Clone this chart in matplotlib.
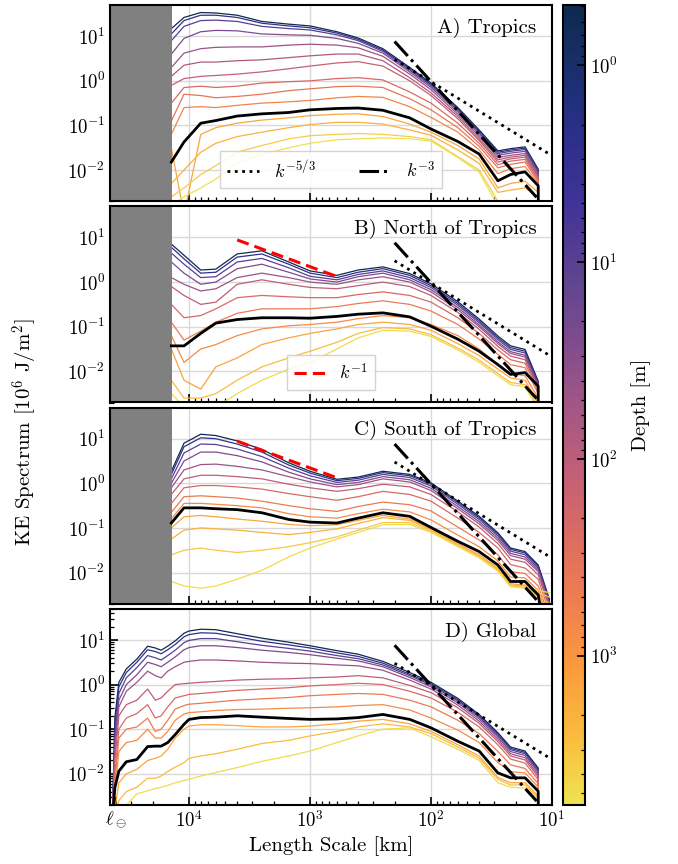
import numpy as np
import matplotlib
matplotlib.use('Agg')
import matplotlib.pyplot as plt
from matplotlib.colors import LinearSegmentedColormap, LogNorm
from matplotlib.cm import ScalarMappable
import matplotlib.ticker as mticker

plt.rcParams.update({
    'font.family': 'serif',
    'font.serif': ['cmr10'],
    'mathtext.fontset': 'cm',
    'axes.unicode_minus': False,
    'axes.formatter.use_mathtext': True,
})

# length scales [km]
L_AB = [14000, 11000, 8000, 6000, 4000, 2500, 1500, 1000, 600, 400, 250, 150,
        100, 60, 40, 28, 22, 16.7, 13.0, 12.9]
L_C = [14000, 11000, 8000, 6000, 4000, 2500, 1500, 1000, 600, 400, 250, 150,
       100, 60, 40, 28, 22, 16.7, 13.0, 10.5]
L_D = [43000, 41000, 38000, 33000, 27000, 22000, 19000, 17000, 15000, 13000,
       11000, 10000, 8000, 6000, 4000, 2500, 1500, 1000, 600, 400, 250, 150,
       100, 60, 40, 28, 22, 16.7, 13.0, 12.9]

# A) Tropics : depths [m] and log10 of the spectra
depth_A = [0.494, 2.646, 9.573, 25.211, 47.374, 77.854, 130.666, 222.475,
           380.213, 643.567, 1452.25, 1941.89, 3597.03, 5727.92]
logE_A = [
    [1.17, 1.42, 1.53, 1.52, 1.47, 1.33, 1.27, 1.23, 1.10, 0.96, 0.72, 0.30, -0.05, -0.60, -1.10, -1.57, -1.52, -1.48, -1.98, -4],
    [1.05, 1.35, 1.47, 1.47, 1.42, 1.29, 1.23, 1.19, 1.07, 0.93, 0.69, 0.27, -0.08, -0.63, -1.13, -1.60, -1.55, -1.51, -2.01, -4],
    [0.90, 1.22, 1.35, 1.36, 1.33, 1.22, 1.17, 1.14, 1.03, 0.90, 0.66, 0.24, -0.11, -0.66, -1.16, -1.63, -1.58, -1.54, -2.04, -4],
    [0.60, 0.95, 1.10, 1.13, 1.12, 1.05, 1.03, 1.02, 0.95, 0.84, 0.62, 0.20, -0.15, -0.70, -1.20, -1.67, -1.62, -1.58, -2.08, -4],
    [0.30, 0.62, 0.72, 0.75, 0.76, 0.76, 0.80, 0.82, 0.80, 0.74, 0.55, 0.15, -0.20, -0.75, -1.25, -1.72, -1.67, -1.63, -2.12, -4],
    [0.10, 0.35, 0.42, 0.42, 0.45, 0.47, 0.52, 0.56, 0.60, 0.60, 0.45, 0.07, -0.27, -0.80, -1.30, -1.77, -1.71, -1.67, -2.15, -4],
    [-0.10, 0.05, 0.10, 0.12, 0.15, 0.20, 0.27, 0.33, 0.40, 0.43, 0.33, 0.00, -0.33, -0.85, -1.34, -1.82, -1.75, -1.71, -2.18, -4],
    [-0.50, -0.15, -0.12, -0.15, -0.12, -0.05, -0.02, 0.00, 0.05, 0.07, 0.02, -0.25, -0.50, -0.95, -1.40, -1.88, -1.80, -1.76, -2.22, -4],
    [-0.90, -0.30, -0.33, -0.38, -0.35, -0.30, -0.22, -0.18, -0.13, -0.12, -0.15, -0.40, -0.65, -1.05, -1.47, -1.95, -1.87, -1.82, -2.26, -4],
    [-1.20, -0.60, -0.58, -0.60, -0.55, -0.50, -0.47, -0.44, -0.38, -0.35, -0.37, -0.58, -0.82, -1.15, -1.55, -2.08, -1.97, -1.92, -2.30, -4],
    [-1.50, -3.00, -1.20, -1.05, -0.95, -0.88, -0.83, -0.78, -0.75, -0.74, -0.80, -0.97, -1.15, -1.45, -1.75, -2.40, -2.30, -2.25, -2.50, -4],
    [-2.30, -2.00, -1.60, -1.40, -1.25, -1.15, -1.05, -0.98, -0.93, -0.93, -0.97, -1.10, -1.22, -1.55, -1.85, -2.50, -2.45, -2.40, -2.60, -4],
    [-2.60, -2.40, -2.10, -1.90, -1.60, -1.45, -1.30, -1.23, -1.20, -1.18, -1.20, -1.25, -1.32, -1.70, -2.00, -2.70, -2.80, -2.80, -3.00, -4],
    [-2.80, -2.60, -2.40, -2.20, -1.85, -1.65, -1.50, -1.40, -1.32, -1.30, -1.28, -1.30, -1.35, -1.72, -2.05, -2.80, -3.00, -3.00, -3.00, -4],
]
black_A = [-1.82, -1.37, -0.95, -0.89, -0.79, -0.74, -0.71, -0.65, -0.62, -0.61, -0.66, -0.83,
           -1.08, -1.36, -1.64, -2.24, -2.10, -2.04, -2.35, -4]

# B) North of Tropics
depth_B = [0.494, 2.646, 9.573, 25.211, 47.374, 109.729, 222.475, 453.938,
           763.333, 1452.25, 2533.34, 4833.29]
logE_B = [
    [0.85, 0.60, 0.27, 0.29, 0.63, 0.70, 0.45, 0.25, 0.15, 0.27, 0.34, 0.19, -0.04, -0.44, -0.83, -1.21, -1.43, -1.51, -2.22, -4],
    [0.78, 0.52, 0.20, 0.22, 0.56, 0.63, 0.40, 0.20, 0.10, 0.22, 0.30, 0.15, -0.08, -0.48, -0.87, -1.25, -1.47, -1.55, -2.25, -4],
    [0.65, 0.40, 0.10, 0.12, 0.45, 0.53, 0.32, 0.13, 0.05, 0.17, 0.25, 0.10, -0.12, -0.52, -0.91, -1.29, -1.51, -1.59, -2.28, -4],
    [0.45, 0.20, -0.05, 0.00, 0.30, 0.40, 0.22, 0.07, 0.00, 0.12, 0.20, 0.05, -0.17, -0.57, -0.96, -1.34, -1.56, -1.64, -2.32, -4],
    [0.10, -0.05, -0.20, -0.15, 0.10, 0.20, 0.10, 0.00, -0.05, 0.05, 0.12, 0.00, -0.22, -0.62, -1.00, -1.38, -1.60, -1.68, -2.36, -4],
    [-0.10, -0.30, -0.50, -0.45, -0.05, 0.05, -0.05, -0.12, -0.15, -0.08, 0.00, -0.10, -0.30, -0.68, -1.06, -1.44, -1.66, -1.74, -2.40, -4],
    [-0.50, -0.80, -0.75, -0.60, -0.35, -0.30, -0.33, -0.35, -0.35, -0.28, -0.22, -0.30, -0.45, -0.80, -1.15, -1.52, -1.74, -1.82, -2.45, -4],
    [-0.90, -1.30, -1.10, -0.90, -0.70, -0.60, -0.60, -0.60, -0.55, -0.48, -0.42, -0.50, -0.65, -0.95, -1.28, -1.62, -1.85, -1.92, -2.50, -4],
    [-1.20, -1.80, -1.50, -1.40, -1.20, -1.05, -0.98, -0.95, -0.90, -0.82, -0.75, -0.80, -0.95, -1.20, -1.50, -1.85, -2.05, -2.10, -2.60, -4],
    [-1.50, -2.20, -2.40, -1.90, -1.70, -1.40, -1.25, -1.15, -1.05, -0.95, -0.90, -0.95, -1.08, -1.38, -1.65, -1.95, -2.15, -2.20, -2.70, -4],
    [-2.20, -2.60, -2.60, -2.50, -2.20, -1.90, -1.70, -1.55, -1.35, -1.15, -1.02, -1.05, -1.18, -1.48, -1.75, -2.05, -2.25, -2.30, -2.80, -4],
    [-2.50, -2.80, -2.90, -2.80, -2.50, -2.20, -1.95, -1.80, -1.50, -1.25, -1.08, -1.10, -1.22, -1.52, -1.80, -2.10, -2.30, -2.35, -2.85, -4],
]
black_B = [-1.43, -1.43, -1.15, -0.92, -0.84, -0.80, -0.80, -0.81, -0.77, -0.72, -0.69, -0.78,
           -0.99, -1.28, -1.55, -1.85, -2.07, -2.03, -2.33, -4]

# C) South of Tropics
depth_C = [0.494, 2.646, 9.573, 25.211, 47.374, 109.729, 222.475, 453.938,
           763.333, 1452.25, 1941.89, 3220.82, 4833.29]
logE_C = [
    [0.27, 0.90, 1.10, 1.07, 0.95, 0.76, 0.46, 0.27, 0.09, 0.14, 0.27, 0.20, 0.01, -0.40, -0.74, -1.11, -1.45, -1.53, -1.83, -2.60],
    [0.20, 0.82, 1.02, 1.00, 0.88, 0.70, 0.41, 0.23, 0.06, 0.11, 0.24, 0.17, -0.02, -0.43, -0.77, -1.14, -1.48, -1.56, -1.86, -2.63],
    [0.10, 0.68, 0.88, 0.87, 0.77, 0.60, 0.34, 0.17, 0.02, 0.07, 0.20, 0.13, -0.06, -0.47, -0.81, -1.18, -1.52, -1.60, -1.90, -2.67],
    [0.00, 0.50, 0.70, 0.70, 0.62, 0.48, 0.25, 0.10, -0.03, 0.02, 0.15, 0.08, -0.11, -0.52, -0.86, -1.23, -1.57, -1.65, -1.94, -2.70],
    [-0.10, 0.30, 0.42, 0.43, 0.38, 0.30, 0.15, 0.03, -0.08, -0.03, 0.10, 0.03, -0.16, -0.57, -0.91, -1.28, -1.62, -1.70, -1.98, -2.74],
    [-0.25, 0.10, 0.18, 0.18, 0.15, 0.10, -0.02, -0.10, -0.18, -0.12, -0.02, -0.08, -0.25, -0.64, -0.98, -1.35, -1.70, -1.77, -2.05, -2.80],
    [-0.45, -0.10, -0.05, -0.05, -0.08, -0.13, -0.23, -0.30, -0.38, -0.30, -0.18, -0.25, -0.40, -0.78, -1.10, -1.45, -1.82, -1.90, -2.15, -2.90],
    [-0.65, -0.30, -0.28, -0.30, -0.33, -0.40, -0.50, -0.57, -0.63, -0.52, -0.42, -0.48, -0.62, -0.98, -1.27, -1.60, -1.98, -2.02, -2.30, -3.00],
    [-0.80, -0.45, -0.45, -0.47, -0.50, -0.55, -0.68, -0.75, -0.78, -0.68, -0.58, -0.64, -0.82, -1.16, -1.42, -1.74, -2.10, -2.12, -2.40, -3.10],
    [-1.00, -0.75, -0.72, -0.75, -0.80, -0.85, -0.92, -0.95, -0.93, -0.83, -0.72, -0.80, -1.02, -1.35, -1.60, -1.90, -2.25, -2.28, -2.55, -3.00],
    [-1.25, -1.05, -1.00, -1.02, -1.05, -1.10, -1.15, -1.10, -1.02, -0.90, -0.77, -0.83, -1.05, -1.38, -1.63, -1.93, -2.28, -2.30, -2.50, -2.70],
    [-1.60, -1.50, -1.45, -1.50, -1.55, -1.50, -1.42, -1.33, -1.20, -1.05, -0.88, -0.88, -1.08, -1.40, -1.65, -1.95, -2.30, -2.33, -2.45, -2.55],
    [-2.20, -2.30, -2.35, -2.30, -2.15, -1.95, -1.65, -1.45, -1.25, -1.10, -0.93, -0.92, -1.10, -1.42, -1.67, -1.97, -2.32, -2.35, -2.40, -2.45],
]
black_C = [-0.89, -0.55, -0.55, -0.57, -0.59, -0.66, -0.81, -0.87, -0.89, -0.78, -0.66, -0.74,
           -0.99, -1.30, -1.53, -1.83, -2.20, -2.20, -2.50, -4]

# D) Global
depth_D = [0.494, 2.646, 9.573, 25.211, 47.374, 109.729, 222.475, 453.938,
           763.333, 1452.25, 2533.34, 4833.29]
logE_D = [
    [-3, -0.74, 0.05, 0.35, 0.57, 0.86, 0.82, 0.77, 0.86, 0.98, 1.15, 1.20, 1.24, 1.23, 1.14, 1.04, 0.95, 0.87, 0.76, 0.68, 0.52, 0.27, 0.05, -0.31, -0.67, -1.08, -1.40, -1.49, -1.87, -4],
    [-3, -0.90, -0.05, 0.27, 0.50, 0.78, 0.74, 0.69, 0.78, 0.90, 1.07, 1.12, 1.16, 1.15, 1.07, 0.97, 0.89, 0.82, 0.71, 0.63, 0.48, 0.23, 0.02, -0.34, -0.70, -1.11, -1.43, -1.52, -1.90, -4],
    [-3, -1.10, -0.20, 0.15, 0.38, 0.65, 0.60, 0.55, 0.65, 0.77, 0.94, 0.99, 1.03, 1.03, 0.96, 0.88, 0.81, 0.75, 0.65, 0.58, 0.44, 0.20, -0.01, -0.37, -0.73, -1.14, -1.46, -1.55, -1.93, -4],
    [-3, -1.30, -0.35, 0.00, 0.22, 0.50, 0.45, 0.40, 0.50, 0.62, 0.78, 0.83, 0.87, 0.87, 0.83, 0.77, 0.72, 0.67, 0.59, 0.53, 0.40, 0.16, -0.05, -0.41, -0.77, -1.18, -1.50, -1.59, -1.97, -4],
    [-3, -1.50, -0.50, -0.15, 0.05, 0.30, 0.20, 0.15, 0.30, 0.40, 0.50, 0.52, 0.55, 0.55, 0.53, 0.50, 0.48, 0.47, 0.44, 0.42, 0.32, 0.10, -0.10, -0.46, -0.82, -1.23, -1.55, -1.64, -2.02, -4],
    [-3, -1.70, -0.70, -0.45, -0.35, -0.10, -0.35, -0.30, -0.15, 0.00, 0.02, 0.03, 0.05, 0.07, 0.10, 0.12, 0.13, 0.15, 0.17, 0.20, 0.15, -0.02, -0.18, -0.52, -0.87, -1.28, -1.60, -1.69, -2.07, -4],
    [-3, -2.00, -1.00, -0.75, -0.65, -0.45, -0.75, -0.70, -0.50, -0.30, -0.25, -0.22, -0.20, -0.17, -0.13, -0.10, -0.07, -0.03, 0.00, 0.03, 0.00, -0.15, -0.30, -0.62, -0.95, -1.35, -1.67, -1.76, -2.13, -4],
    [-3, -2.20, -1.20, -1.00, -0.95, -0.75, -1.05, -1.00, -0.80, -0.55, -0.47, -0.44, -0.42, -0.39, -0.35, -0.32, -0.29, -0.25, -0.22, -0.20, -0.22, -0.35, -0.50, -0.80, -1.10, -1.50, -1.80, -1.88, -2.22, -4],
    [-3, -2.40, -1.50, -1.30, -1.25, -1.00, -1.20, -1.20, -1.05, -0.80, -0.66, -0.63, -0.61, -0.58, -0.56, -0.55, -0.53, -0.52, -0.50, -0.47, -0.45, -0.57, -0.75, -1.02, -1.30, -1.75, -1.95, -1.98, -2.30, -4],
    [-3, -2.80, -2.20, -2.00, -1.90, -1.70, -1.65, -1.60, -1.45, -1.20, -1.00, -0.93, -0.90, -0.90, -0.92, -0.95, -0.95, -0.93, -0.88, -0.82, -0.78, -0.88, -1.05, -1.35, -1.60, -2.08, -2.20, -2.20, -2.50, -4],
    [-3, -3.00, -2.60, -2.40, -2.30, -2.10, -2.10, -2.05, -1.95, -1.85, -1.75, -1.65, -1.60, -1.55, -1.45, -1.32, -1.25, -1.15, -1.05, -0.95, -0.88, -0.95, -1.10, -1.40, -1.65, -2.12, -2.25, -2.25, -2.55, -4],
    [-3, -3.00, -3.00, -2.70, -2.45, -2.38, -2.33, -2.30, -2.26, -2.20, -2.15, -2.12, -2.05, -1.97, -1.86, -1.72, -1.60, -1.49, -1.30, -1.15, -1.00, -0.97, -1.17, -1.45, -1.70, -2.20, -2.30, -2.32, -2.65, -4],
]
black_D = [-3, -2.31, -1.94, -1.73, -1.68, -1.39, -1.38, -1.38, -1.30, -1.12, -0.89, -0.78, -0.74,
           -0.73, -0.70, -0.73, -0.76, -0.78, -0.77, -0.74, -0.67, -0.78, -0.97, -1.27, -1.49,
           -1.98, -2.09, -2.09, -2.39, -4]

# reference slopes (end points)
k53_L, k53_E = [200, 10], [3.0, 0.021]
k3_L, k3_E = [200, 13.4], [7.6, 0.00245]
k1_L, k1_E = [4000, 600], [8.8, 1.33]

titles = ['A) Tropics', 'B) North of Tropics', 'C) South of Tropics', 'D) Global']

# colormap (shallow = dark)
cmap = LinearSegmentedColormap.from_list('depth', [
    '#0e2a4d', '#1a2f6e', '#2c2f8c', '#423397', '#5c4391', '#7d4b8d', '#a25685',
    '#c15f77', '#dc6c62', '#f07f4e', '#fb9c3c', '#f9bd3e', '#efe250'])
norm = LogNorm(vmin=0.494, vmax=5727.92)

W, H = 678, 864
fig = plt.figure(figsize=(W / 100, H / 100), dpi=100)

panels = [(L_AB, depth_A, logE_A, black_A),
          (L_AB, depth_B, logE_B, black_B),
          (L_C, depth_C, logE_C, black_C),
          (L_D, depth_D, logE_D, black_D)]

ph = 196.25
axes = []
for i, (L, depths, logE, black) in enumerate(panels):
    top = 5 + i * (ph + 5)
    ax = fig.add_axes([110 / W, 1 - (top + ph) / H, 442 / W, ph / H])
    axes.append(ax)
    ax.set_xscale('log')
    ax.set_yscale('log')

    for d, le in zip(depths, logE):
        ax.plot(L, 10 ** np.array(le), color=cmap(norm(d)), lw=0.9, zorder=2)
    ax.plot(L, 10 ** np.array(black), color='k', lw=2.0, zorder=3)

    l53, = ax.plot(k53_L, k53_E, color='k', ls=':', lw=2.0, zorder=4, label=r'$k^{-5/3}$')
    l3, = ax.plot(k3_L, k3_E, color='k', ls='-.', lw=2.2, zorder=4, label=r'$k^{-3}$')
    if i in (1, 2):
        l1, = ax.plot(k1_L, k1_E, color='r', ls='--', lw=2.2, dashes=(4, 2), zorder=4, label=r'$k^{-1}$')

    if i < 3:
        ax.axvspan(45000, 1.38e4, color='#808080', lw=0, zorder=2.5)

    ax.set_xlim(45000, 10)
    ax.set_ylim(2e-3, 50)
    ax.set_xticks([40075, 1e4, 1e3, 1e2, 1e1])
    ax.set_xticklabels([r'$\ell_\ominus$', r'$10^{4}$', r'$10^{3}$', r'$10^{2}$', r'$10^{1}$'])
    ax.yaxis.set_major_locator(mticker.LogLocator(base=10, numticks=10))
    ax.yaxis.set_minor_locator(mticker.LogLocator(base=10, subs=np.arange(2, 10), numticks=20))
    ax.yaxis.set_minor_formatter(mticker.NullFormatter())
    ax.grid(True, which='major', color='#d9d9d9', lw=1.0)
    ax.get_xgridlines()[0].set_visible(False)
    ax.set_axisbelow(True)
    ax.tick_params(which='both', direction='in', labelsize=13.5)
    ax.tick_params(which='major', length=6, width=1.2)
    ax.tick_params(which='minor', length=3, width=0.9)
    for s in ax.spines.values():
        s.set_linewidth(1.5)
    if i < 3:
        ax.tick_params(axis='x', labelbottom=False)

    ax.text(0.965, 0.935, titles[i], transform=ax.transAxes, ha='right', va='top',
            fontsize=15, zorder=6)

    if i == 0:
        ax.legend(handles=[l53, l3], loc='lower center', bbox_to_anchor=(0.5, 0.02), ncol=2,
                  fontsize=13, handlelength=1.8, handletextpad=0.8, columnspacing=2.4,
                  fancybox=False, edgecolor='#cccccc', framealpha=0.85)
    if i == 1:
        ax.legend(handles=[l1], loc='lower center', bbox_to_anchor=(0.5, 0.02),
                  fontsize=13, handlelength=1.7, handletextpad=0.8, fancybox=False,
                  edgecolor='#cccccc', framealpha=0.85)

axes[-1].set_xlabel('Length Scale [km]', fontsize=15, labelpad=4)
fig.text(25 / W, 0.5, r'KE Spectrum [$10^6$ J/m$^2$]', rotation=90, ha='center', va='center',
         fontsize=15)

cax = fig.add_axes([563 / W, 1 - 805 / H, 22 / W, 800 / H])
cb = fig.colorbar(ScalarMappable(norm=norm, cmap=cmap), cax=cax)
cax.invert_yaxis()
cb.outline.set_linewidth(1.5)
cax.tick_params(which='both', direction='in', labelsize=13.5)
cax.tick_params(which='major', length=6, width=1.2)
cax.tick_params(which='minor', length=3, width=0.9)
cb.set_label('Depth [m]', fontsize=15, labelpad=10)

fig.savefig('out.png', dpi=100)
